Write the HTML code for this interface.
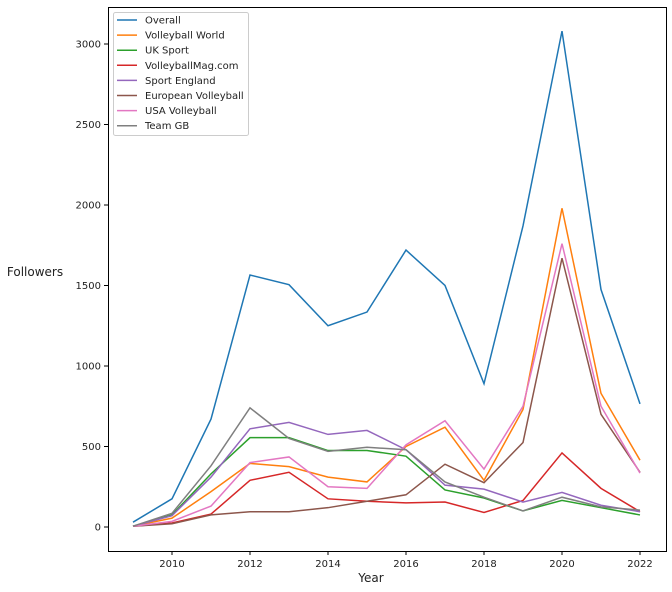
<!DOCTYPE html>
<html><head><meta charset="utf-8"><style>body{margin:0;background:#fff}svg{display:block;font-family:"DejaVu Sans","Liberation Sans",sans-serif}</style></head>
<body>
<svg id="s" width="672" height="592" xmlns="http://www.w3.org/2000/svg">
<rect x="108.5" y="7.5" width="558" height="544" fill="none" stroke="#000" stroke-width="1"/>
<g id="g"></g>
<text x="371" y="582" font-size="12" text-anchor="middle" fill="#222">Year</text>
<text x="35" y="276" font-size="12" text-anchor="middle" fill="#222">Followers</text>
<g id="lg">
<rect x="113.5" y="12.5" width="135" height="123" rx="2" fill="#fff" fill-opacity="0.8" stroke="#ccc"/>
</g>
</svg>
<script>
const X=y=>133+(y-2009)*39, Y=v=>527-v*0.161;
const g=document.getElementById('g'), lg=document.getElementById('lg');
const ns='http://www.w3.org/2000/svg';
function el(p,t,a,txt){const e=document.createElementNS(ns,t);for(const k in a)e.setAttribute(k,a[k]);if(txt!==undefined)e.textContent=String(txt);p.appendChild(e);return e;}
for(let y=2010;y<=2022;y+=2){el(g,'line',{x1:X(y),x2:X(y),y1:551,y2:555,stroke:'#000'});el(g,'text',{x:X(y),y:567,'font-size':10,'text-anchor':'middle',fill:'#222'},y);}
for(let v=0;v<=3000;v+=500){el(g,'line',{x1:104,x2:108,y1:Y(v),y2:Y(v),stroke:'#000'});el(g,'text',{x:101,y:Y(v)+3.5,'font-size':10,'text-anchor':'end',fill:'#222'},v);}
const S=[
['Overall','#1f77b4',[30,175,670,1565,1505,1250,1335,1720,1500,890,1870,3080,1475,765]],
['Volleyball World','#ff7f0e',[5,55,220,395,375,310,280,500,620,290,730,1980,830,415]],
['UK Sport','#2ca02c',[5,75,330,555,555,475,475,440,230,180,100,165,120,75]],
['VolleyballMag.com','#d62728',[5,25,80,290,340,175,160,150,155,90,165,460,240,95]],
['Sport England','#9467bd',[5,70,310,610,650,575,600,480,260,235,155,215,135,95]],
['European Volleyball','#8c564b',[5,20,75,95,95,120,160,200,390,275,525,1670,700,340]],
['USA Volleyball','#e377c2',[5,35,130,400,435,250,240,510,660,360,750,1760,750,335]],
['Team GB','#7f7f7f',[5,85,380,740,550,470,495,480,280,185,100,185,125,105]]];
S.forEach((s,i)=>{el(g,'polyline',{points:s[2].map((v,j)=>X(2009+j)+','+Y(v)).join(' '),fill:'none',stroke:s[1],'stroke-width':1.5});
const yy=20+i*15.1;el(lg,'line',{x1:117,x2:137,y1:yy,y2:yy,stroke:s[1],'stroke-width':1.5});el(lg,'text',{x:145,y:yy+3.5,'font-size':10,fill:'#222'},s[0]);});
</script>
</body></html>
